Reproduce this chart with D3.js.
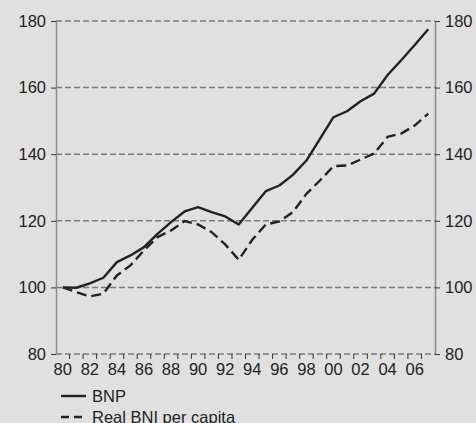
<!DOCTYPE html>
<html><head><meta charset="utf-8">
<script src="https://cdn.jsdelivr.net/npm/d3@7"></script>
<style>
html,body{margin:0;padding:0;background:#e0e0e0;}
svg{display:block;font-family:"Liberation Sans",Arial,sans-serif;}
</style></head>
<body>
<svg id="c" width="476" height="423"></svg>
<script>
const years = ["80","81","82","83","84","85","86","87","88","89","90","91","92","93","94","95","96","97","98","99","00","01","02","03","04","05","06","07"];
const bnp = [100,99.9,101.2,102.9,107.6,109.6,112.1,116.1,119.6,122.8,124.1,122.6,121.3,118.9,123.9,128.9,130.6,133.8,138.1,144.6,151.1,152.9,155.9,158.2,163.8,168.2,172.8,177.5];
const realBni = [100,98.6,97.3,98.1,103.6,106.6,111.1,115.1,117.1,119.9,118.9,116.6,112.9,108.3,114.3,118.9,119.8,122.6,128.1,132.1,136.4,136.6,138.4,140.2,145.2,146.2,148.6,152.2];
const yTicks = [80,100,120,140,160,180];
const xLabels = ["80","82","84","86","88","90","92","94","96","98","00","02","04","06"];
const seriesNames = ["BNP","Real BNI per capita"];

const FS = 16.5;
const svg = d3.select("#c");
const L = 56, R = 435, T = 21, B = 354;
const x = d3.scaleBand().domain(years).range([L, R]).paddingInner(0).paddingOuter(0);
const y = d3.scaleLinear().domain([80,180]).range([B, T]);

// gridlines
svg.append("g").selectAll("line").data(yTicks).join("line")
  .attr("x1", L).attr("x2", R).attr("y1", d=>y(d)).attr("y2", d=>y(d))
  .attr("stroke", "#7a7a7a").attr("stroke-width", 1.5).attr("stroke-dasharray", "6,3");

// left and right axes
const ya = svg.append("g").attr("transform", `translate(${L},0)`)
  .call(d3.axisLeft(y).tickValues(yTicks).tickSize(5).tickPadding(5).tickSizeOuter(0));
const yb = svg.append("g").attr("transform", `translate(${R},0)`)
  .call(d3.axisRight(y).tickValues(yTicks).tickSize(5).tickPadding(5).tickSizeOuter(0));
[ya, yb].forEach(g => {
  g.select(".domain").attr("stroke", "#8a8a8a").attr("stroke-width", 1.5);
  g.selectAll(".tick line").attr("stroke", "#333").attr("stroke-width", 1);
  g.selectAll("text").attr("font-size", FS).attr("fill", "#222").attr("font-family", "Liberation Sans, Arial, sans-serif");
});

// bottom axis: ticks at band boundaries
const bounds = years.slice(1).map(d => x(d));
svg.append("g").selectAll("line").data(bounds).join("line")
  .attr("x1", d=>d).attr("x2", d=>d).attr("y1", B).attr("y2", B+5)
  .attr("stroke", "#333").attr("stroke-width", 1);
svg.append("g").selectAll("text").data(xLabels).join("text")
  .attr("x", d => x(d) + x.bandwidth()/2).attr("y", B+21)
  .attr("text-anchor", "middle").attr("font-size", FS).attr("fill", "#222")
  .text(d => d);

// lines
const line = d3.line().x((d,i) => x(years[i]) + x.bandwidth()/2).y(d => y(d));
svg.append("path").datum(bnp).attr("d", line).attr("fill", "none")
  .attr("stroke", "#222").attr("stroke-width", 2.4).attr("stroke-linejoin", "round");
svg.append("path").datum(realBni).attr("d", line).attr("fill", "none")
  .attr("stroke", "#222").attr("stroke-width", 2.4).attr("stroke-dasharray", "10,5");

// legend
const leg = svg.append("g");
seriesNames.forEach((n, i) => {
  const ly = 396 + i*21;
  leg.append("line").attr("x1", 61).attr("x2", 86).attr("y1", ly).attr("y2", ly)
    .attr("stroke", "#222").attr("stroke-width", 2.4)
    .attr("stroke-dasharray", i === 1 ? "8,5" : null);
  leg.append("text").attr("x", 92).attr("y", ly + 6).attr("font-size", FS).attr("fill", "#222").text(n);
});
</script>
</body></html>
